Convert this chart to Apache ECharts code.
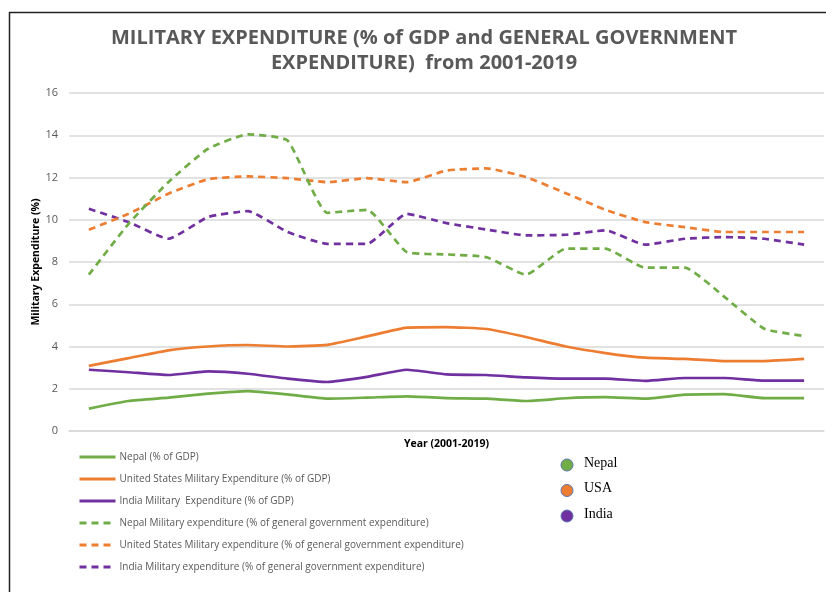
<!DOCTYPE html>
<html>
<head>
<meta charset="utf-8">
<script src="https://cdn.jsdelivr.net/npm/echarts@6/dist/echarts.min.js"></script>
<style>
html,body{margin:0;padding:0;background:#fff;}
#c{width:826px;height:592px;}
</style>
</head>
<body>
<div id="c"></div>
<script>
var years = ['2001','2002','2003','2004','2005','2006','2007','2008','2009','2010','2011','2012','2013','2014','2015','2016','2017','2018','2019'];
var nepalGdp = [1.06, 1.42, 1.58, 1.77, 1.89, 1.73, 1.53, 1.58, 1.64, 1.56, 1.53, 1.42, 1.55, 1.6, 1.53, 1.72, 1.75, 1.56, 1.56];
var usaGdp = [3.08, 3.45, 3.82, 4.0, 4.07, 4.0, 4.08, 4.48, 4.89, 4.92, 4.83, 4.45, 4.0, 3.69, 3.47, 3.41, 3.31, 3.31, 3.41];
var indiaGdp = [2.9, 2.78, 2.65, 2.82, 2.71, 2.48, 2.32, 2.56, 2.9, 2.68, 2.65, 2.54, 2.48, 2.48, 2.37, 2.51, 2.51, 2.38, 2.38];
var nepalGov = [7.4, 9.81, 11.78, 13.36, 14.04, 13.75, 10.33, 10.47, 8.47, 8.36, 8.23, 7.4, 8.63, 8.63, 7.73, 7.73, 6.34, 4.84, 4.5];
var usaGov = [9.53, 10.28, 11.23, 11.92, 12.05, 11.97, 11.78, 11.97, 11.78, 12.33, 12.43, 12.02, 11.26, 10.47, 9.89, 9.65, 9.42, 9.42, 9.42];
var indiaGov = [10.52, 9.89, 9.1, 10.13, 10.41, 9.42, 8.86, 8.86, 10.28, 9.84, 9.54, 9.26, 9.29, 9.5, 8.82, 9.1, 9.18, 9.1, 8.82];
var yTicks = [0, 2, 4, 6, 8, 10, 12, 14, 16];
var seriesNames = [
  'Nepal (% of GDP)',
  'United States Military Expenditure (% of GDP)',
  'India Military  Expenditure (% of GDP)',
  'Nepal Military expenditure (% of general government expenditure)',
  'United States Military expenditure (% of general government expenditure)',
  'India Military expenditure (% of general government expenditure)'
];
var countries = ['Nepal', 'USA', 'India'];

var GREEN = '#70AD47', ORANGE = '#ED7D31', PURPLE = '#7030A0';
var seriesData = [nepalGdp, usaGdp, indiaGdp, nepalGov, usaGov, indiaGov];
var colors = [GREEN, ORANGE, PURPLE, GREEN, ORANGE, PURPLE];
var types = ['solid','solid','solid','dashed','dashed','dashed'];

var series = seriesData.map(function (d, i) {
  return {
    name: seriesNames[i],
    type: 'line',
    data: d,
    smooth: 0.15,
    symbol: 'none',
    showSymbol: false,
    color: colors[i],
    lineStyle: { color: colors[i], width: 2.7, type: types[i] === 'dashed' ? [7, 5] : 'solid' },
    itemStyle: { color: colors[i] },
    z: 10 - i
  };
});

var countryColors = [GREEN, ORANGE, PURPLE];
var graphics = [
  { type: 'line', shape: { x1: 9, y1: 12.5, x2: 826, y2: 12.5 }, style: { stroke: '#222', lineWidth: 1.5 } },
  { type: 'line', shape: { x1: 9.5, y1: 12, x2: 9.5, y2: 592 }, style: { stroke: '#222', lineWidth: 1.5 } }
];
countries.forEach(function (c, i) {
  graphics.push({ type: 'circle', shape: { cx: 567, cy: 465 + i * 25.5, r: 6 }, style: { fill: countryColors[i], stroke: '#5a74b0', lineWidth: 1 } });
  graphics.push({ type: 'text', left: 584, top: 456 + i * 25.5, style: { text: c, font: '14px "Liberation Serif", "DejaVu Serif", serif', fill: '#000' } });
});

var chart = echarts.init(document.getElementById('c'), null, { renderer: 'canvas' });
chart.setOption({
  animation: false,
  backgroundColor: '#fff',
  title: {
    text: 'MILITARY EXPENDITURE (% of GDP and GENERAL GOVERNMENT\nEXPENDITURE)  from 2001-2019',
    left: 419,
    textAlign: 'center',
    top: 21,
    textStyle: { fontFamily: '"Open Sans", sans-serif', fontWeight: 'bold', fontSize: 20, color: '#595959', lineHeight: 25 }
  },
  grid: { left: 69, right: 2, top: 93, bottom: 161, containLabel: false },
  xAxis: {
    type: 'category',
    data: years,
    boundaryGap: true,
    name: 'Year (2001-2019)',
    nameLocation: 'middle',
    nameGap: 8,
    nameTextStyle: { fontFamily: '"Open Sans", sans-serif', fontWeight: 'bold', fontSize: 10.5, color: '#000' },
    axisLine: { show: true, lineStyle: { color: '#d9d9d9', width: 1.5 } },
    axisTick: { show: false },
    axisLabel: { show: false },
    splitLine: { show: false }
  },
  yAxis: {
    type: 'value',
    min: yTicks[0],
    max: yTicks[yTicks.length - 1],
    interval: 2,
    name: 'Military Expenditure (%)',
    nameLocation: 'middle',
    nameGap: 27,
    nameRotate: 90,
    nameMoveOverlap: false,
    nameTextStyle: { fontFamily: '"Open Sans", sans-serif', fontWeight: 'bold', fontSize: 10.5, color: '#000' },
    axisLine: { show: false },
    axisTick: { show: false },
    axisLabel: { color: '#595959', fontSize: 11, margin: 11, fontFamily: '"Open Sans", sans-serif' },
    splitLine: { lineStyle: { color: '#d9d9d9', width: 1.5 } }
  },
  legend: {
    orient: 'vertical',
    left: 73,
    top: 447,
    itemWidth: 36,
    itemHeight: 10,
    itemGap: 12,
    data: seriesNames,
    itemStyle: { opacity: 0 },
    lineStyle: { width: 3 },
    textStyle: { fontFamily: '"Open Sans", sans-serif', fontSize: 10, color: '#595959', padding: [0, 0, 0, -1] }
  },
  graphic: graphics,
  series: series
});
</script>
</body>
</html>
